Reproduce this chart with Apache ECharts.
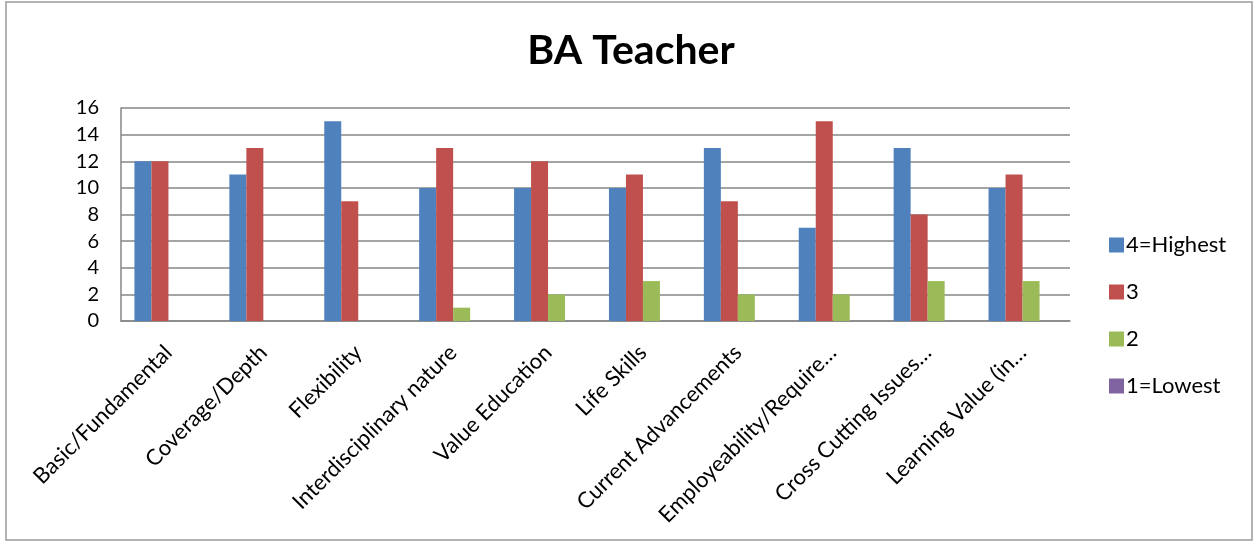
<!DOCTYPE html>
<html>
<head>
<meta charset="utf-8">
<title>BA Teacher</title>
<script src="https://cdn.jsdelivr.net/npm/echarts@6/dist/echarts.min.js"></script>
<style>
  html, body { margin: 0; padding: 0; background: #fff; }
  #chart { width: 1257px; height: 544px; }
</style>
</head>
<body>
<div id="chart"></div>
<script>
const categories = [
  "Basic/Fundamental", "Coverage/Depth", "Flexibility", "Interdisciplinary nature",
  "Value Education", "Life Skills", "Current Advancements", "Employeability/Require…",
  "Cross Cutting Issues…", "Learning Value (in…"
];
const highest = [12, 11, 15, 10, 10, 10, 13, 7, 13, 10];
const three = [12, 13, 9, 13, 12, 11, 9, 15, 8, 11];
const two = [0, 0, 0, 1, 2, 3, 2, 2, 3, 3];
const lowest = [0, 0, 0, 0, 0, 0, 0, 0, 0, 0];
const yTicks = { min: 0, max: 16, interval: 2 };

const FONT = "Lato, 'Open Sans', sans-serif";

function bar(name, data, color) {
  return {
    name: name,
    type: "bar",
    data: data,
    barWidth: 17,
    barGap: "0%",
    itemStyle: { color: color },
    emphasis: { disabled: true }
  };
}

let option = {
  animation: false,
  textStyle: { fontFamily: FONT, color: "#000" },
  title: {
    text: "BA Teacher",
    top: 25,
    left: 626,
    textAlign: "center",
    textStyle: { fontFamily: FONT, fontSize: 41, fontWeight: "bold", color: "#000" }
  },
  legend: {
    orient: "vertical",
    left: 1104,
    top: 229,
    itemWidth: 15,
    itemHeight: 15,
    itemGap: 25,
    icon: "rect",
    textStyle: { fontFamily: FONT, fontSize: 22, lineHeight: 20, color: "#000", padding: [0, 0, 0, -3] },
    data: ["4=Highest", "3", "2", "1=Lowest"]
  },
  grid: { left: 121, top: 108, width: 949, height: 213 },
  xAxis: {
    type: "category",
    data: categories,
    axisLine: { show: true, lineStyle: { color: "#868686", width: 1.5 } },
    axisTick: { show: false },
    axisLabel: {
      interval: 0,
      rotate: 45,
      margin: 28,
      fontFamily: FONT,
      fontSize: 22,
      color: "#000"
    }
  },
  yAxis: {
    type: "value",
    min: yTicks.min,
    max: yTicks.max,
    interval: yTicks.interval,
    axisLine: { show: true, lineStyle: { color: "#868686", width: 1.5 } },
    axisTick: { show: false },
    splitLine: { lineStyle: { color: "#868686", width: 1.5 } },
    axisLabel: { margin: 22, fontFamily: FONT, fontSize: 20, color: "#000" }
  },
  graphic: [
    {
      type: "rect",
      shape: { x: 6, y: 2, width: 1246, height: 538 },
      style: { fill: "none", stroke: "#9a9a9a", lineWidth: 1.5 },
      silent: true
    }
  ],
  series: [
    bar("4=Highest", highest, "#4F81BD"),
    bar("3", three, "#C0504D"),
    bar("2", two, "#9BBB59"),
    bar("1=Lowest", lowest, "#8064A2")
  ]
};

let chart = echarts.init(document.getElementById("chart"));
chart.setOption(option);
</script>
</body>
</html>
